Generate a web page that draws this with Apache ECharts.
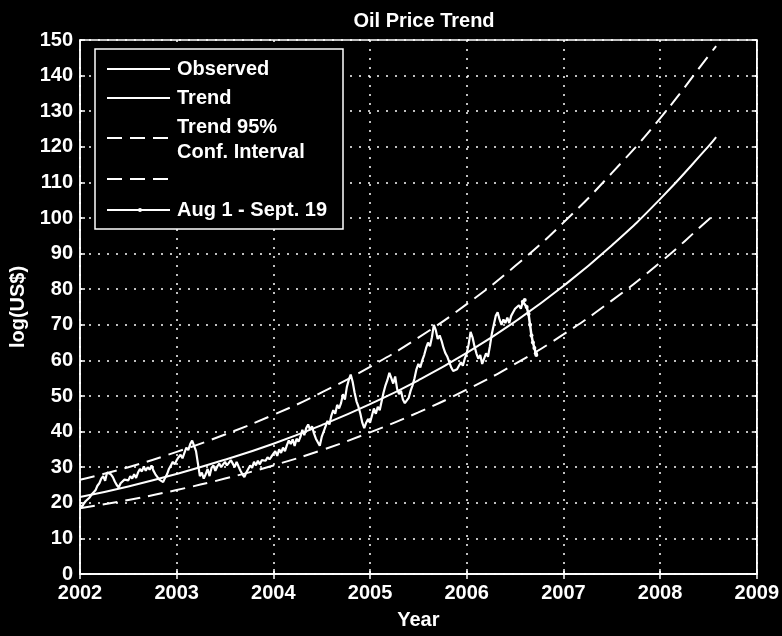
<!DOCTYPE html>
<html>
<head>
<meta charset="utf-8">
<title>Oil Price Trend</title>
<script src="https://cdn.jsdelivr.net/npm/echarts@6/dist/echarts.min.js"></script>
<style>
  html, body { margin: 0; padding: 0; background: #000; }
  #chart { width: 782px; height: 636px; }
</style>
</head>
<body>
<div id="chart"></div>
<script>
// trend model, read at half-year steps
const trendYears = [2002, 2002.5, 2003, 2003.5, 2004, 2004.5, 2005, 2005.5, 2006, 2006.5, 2007, 2007.5, 2008, 2008.5, 2008.58]
const trendValues = [21.6, 24.6, 28.1, 32.1, 36.6, 41.8, 47.7, 54.4, 62.1, 70.9, 80.9, 92.3, 105.3, 120.1, 122.7]
const upperValues = [26.5, 30.0, 34.3, 39.2, 44.7, 51.0, 58.2, 66.4, 75.8, 86.5, 98.7, 112.6, 128.0, 145.5, 148.3]
const lowerValues = [18.5, 20.8, 23.6, 26.8, 30.5, 34.8, 39.8, 45.4, 51.8, 59.0, 67.3, 76.8, 87.5, 99.5, 101.4]

// observed price, [year, US$]
const observed = [
  [2002.00, 19.5], [2002.02, 18.8], [2002.04, 19.8], [2002.06, 20.5], [2002.08, 20.0], [2002.10, 21.5],
  [2002.12, 22.3], [2002.14, 21.8], [2002.16, 23.5], [2002.18, 24.8], [2002.20, 25.5], [2002.22, 26.8],
  [2002.24, 27.5], [2002.26, 26.2], [2002.28, 28.5], [2002.30, 29.0], [2002.32, 28.0], [2002.34, 27.2],
  [2002.36, 26.0], [2002.38, 25.0], [2002.40, 24.3], [2002.42, 25.5], [2002.44, 25.0], [2002.46, 26.5],
  [2002.48, 27.0], [2002.50, 26.3], [2002.52, 27.5], [2002.54, 26.8], [2002.56, 28.0], [2002.58, 27.0],
  [2002.60, 28.5], [2002.62, 29.5], [2002.64, 28.8], [2002.66, 30.2], [2002.68, 29.0], [2002.70, 30.0],
  [2002.72, 29.3], [2002.74, 30.5], [2002.76, 29.0], [2002.78, 28.0], [2002.80, 27.5], [2002.82, 26.5],
  [2002.84, 26.0], [2002.86, 25.8], [2002.88, 27.0], [2002.90, 28.0], [2002.92, 29.5], [2002.94, 30.5],
  [2002.96, 31.5], [2002.98, 30.8], [2003.00, 32.0], [2003.02, 32.8], [2003.04, 33.5], [2003.06, 32.5],
  [2003.08, 34.0], [2003.10, 35.5], [2003.12, 34.8], [2003.14, 36.5], [2003.16, 37.5], [2003.18, 37.8],
  [2003.20, 34.5], [2003.22, 31.0], [2003.24, 27.5], [2003.26, 28.5], [2003.28, 26.8], [2003.30, 28.0],
  [2003.32, 29.5], [2003.34, 27.5], [2003.36, 29.8], [2003.38, 30.5], [2003.40, 29.0], [2003.42, 30.2],
  [2003.44, 31.0], [2003.46, 30.0], [2003.48, 30.8], [2003.50, 31.5], [2003.52, 30.5], [2003.54, 31.2],
  [2003.56, 32.0], [2003.58, 31.0], [2003.60, 30.0], [2003.62, 31.5], [2003.64, 30.2], [2003.66, 29.0],
  [2003.68, 28.0], [2003.70, 27.2], [2003.72, 28.5], [2003.74, 29.5], [2003.76, 30.5], [2003.78, 29.8],
  [2003.80, 31.5], [2003.82, 30.5], [2003.84, 31.8], [2003.86, 30.8], [2003.88, 32.0], [2003.90, 32.5],
  [2003.92, 31.8], [2003.94, 32.8], [2003.96, 32.2], [2003.98, 33.0], [2004.00, 33.5], [2004.02, 34.5],
  [2004.04, 33.2], [2004.06, 35.0], [2004.08, 34.0], [2004.10, 35.5], [2004.12, 34.5], [2004.14, 36.2],
  [2004.16, 37.5], [2004.18, 36.5], [2004.20, 37.8], [2004.22, 36.0], [2004.24, 38.0], [2004.26, 37.2],
  [2004.28, 38.5], [2004.30, 40.5], [2004.32, 39.0], [2004.34, 41.0], [2004.36, 42.0], [2004.38, 40.5],
  [2004.40, 41.5], [2004.42, 39.5], [2004.44, 38.0], [2004.46, 37.5], [2004.48, 36.0], [2004.50, 38.5],
  [2004.52, 40.0], [2004.54, 41.5], [2004.56, 43.0], [2004.58, 42.0], [2004.60, 44.5], [2004.62, 46.0],
  [2004.64, 45.0], [2004.66, 47.5], [2004.68, 46.5], [2004.70, 48.0], [2004.72, 50.5], [2004.74, 49.0],
  [2004.76, 52.5], [2004.78, 54.5], [2004.80, 56.0], [2004.82, 54.0], [2004.84, 51.0], [2004.86, 48.5],
  [2004.88, 47.0], [2004.90, 45.0], [2004.92, 42.5], [2004.94, 41.0], [2004.96, 42.5], [2004.98, 43.5],
  [2005.00, 42.5], [2005.02, 44.5], [2005.04, 46.5], [2005.06, 45.0], [2005.08, 47.0], [2005.10, 46.0],
  [2005.12, 48.5], [2005.14, 51.0], [2005.16, 53.0], [2005.18, 54.5], [2005.20, 56.5], [2005.22, 55.0],
  [2005.24, 53.5], [2005.26, 55.5], [2005.28, 52.0], [2005.30, 50.5], [2005.32, 51.5], [2005.34, 49.0],
  [2005.36, 48.0], [2005.38, 47.5], [2005.40, 49.5], [2005.42, 51.5], [2005.44, 53.0], [2005.46, 55.0],
  [2005.48, 57.5], [2005.50, 59.0], [2005.52, 58.0], [2005.54, 60.0], [2005.56, 61.5], [2005.58, 63.5],
  [2005.60, 65.0], [2005.62, 64.0], [2005.64, 66.5], [2005.66, 70.0], [2005.68, 68.5], [2005.70, 66.0],
  [2005.72, 67.0], [2005.74, 65.5], [2005.76, 63.5], [2005.78, 62.0], [2005.80, 61.0], [2005.82, 59.5],
  [2005.84, 58.0], [2005.86, 57.0], [2005.88, 56.5], [2005.90, 57.5], [2005.92, 58.0], [2005.94, 59.5],
  [2005.96, 58.5], [2005.98, 60.5], [2006.00, 62.0], [2006.02, 64.5], [2006.04, 68.0], [2006.06, 66.5],
  [2006.08, 64.0], [2006.10, 62.0], [2006.12, 60.5], [2006.14, 61.5], [2006.16, 59.0], [2006.18, 60.5],
  [2006.20, 62.0], [2006.22, 61.0], [2006.24, 64.0], [2006.26, 67.5], [2006.28, 70.0], [2006.30, 72.5],
  [2006.32, 73.5], [2006.34, 71.5], [2006.36, 70.0], [2006.38, 71.5], [2006.40, 70.5], [2006.42, 72.0],
  [2006.44, 70.5], [2006.46, 72.5], [2006.48, 73.5], [2006.50, 74.5], [2006.52, 74.0], [2006.54, 75.5],
  [2006.56, 74.5], [2006.58, 76.5]
]

// Aug 1 - Sept. 19
const recent = [
  [2006.58, 76.5], [2006.60, 77.0], [2006.62, 75.0], [2006.64, 73.0], [2006.655, 70.0],
  [2006.67, 67.0], [2006.685, 65.0], [2006.70, 63.5], [2006.715, 62.0], [2006.72, 61.5]
]

const zip = (xs, ys) => xs.map((x, i) => [x, ys[i]])

const font = '"Liberation Sans", Arial, sans-serif'
const white = '#fff'
const dash = [15, 8]

const el = document.getElementById('chart')
const myChart = echarts.init(el)

const axisCommon = {
  axisLine: { show: true, lineStyle: { color: white, width: 1.5 } },
  axisTick: { show: true, inside: true, length: 5, lineStyle: { color: white, width: 1.5 } },
  axisLabel: { color: white, fontSize: 20, fontWeight: 'bold', fontFamily: font },
  splitLine: { show: true, lineStyle: { color: white, type: [2, 7], width: 1.5 } },
}

const legendText = (text, x, y) => ({
  type: 'text', x, y, z: 101,
  style: { text, fill: white, font: 'bold 20px ' + font, verticalAlign: 'middle' },
})
const legendLine = (y, lineDash) => ({
  type: 'line', z: 101,
  shape: { x1: 107, y1: y, x2: 170, y2: y },
  style: { stroke: white, lineWidth: 2, lineDash: lineDash || null },
})

const option = {
  backgroundColor: '#000',
  animation: false,
  title: {
    text: 'Oil Price Trend',
    left: 419, top: 6, textAlign: 'center',
    textStyle: { color: white, fontSize: 20, fontWeight: 'bold', fontFamily: font },
  },
  grid: { left: 80, right: 24, top: 40, bottom: 62, show: true, borderColor: white, borderWidth: 1.5 },
  xAxis: [
    {
      ...axisCommon,
      type: 'value', min: 2002, max: 2009, interval: 1,
      axisLabel: { ...axisCommon.axisLabel, margin: 9, formatter: (v) => String(v) },
      name: 'Year', nameLocation: 'middle', nameGap: 36,
      nameTextStyle: { color: white, fontSize: 20, fontWeight: 'bold', fontFamily: font },
    },
    {
      ...axisCommon,
      type: 'value', min: 2002, max: 2009, interval: 1, position: 'top',
      axisLabel: { show: false }, splitLine: { show: false },
    },
  ],
  yAxis: [
    {
      ...axisCommon,
      type: 'value', min: 0, max: 150, interval: 10,
      axisLabel: { ...axisCommon.axisLabel, margin: 7 },
      name: 'log(US$)', nameLocation: 'middle', nameGap: 52,
      nameTextStyle: { color: white, fontSize: 20, fontWeight: 'bold', fontFamily: font },
    },
    {
      ...axisCommon,
      type: 'value', min: 0, max: 150, interval: 10, position: 'right',
      axisLabel: { show: false }, splitLine: { show: false },
    },
  ],
  series: [
    {
      name: 'Observed', type: 'line', data: observed, showSymbol: false,
      lineStyle: { color: white, width: 2.2 },
    },
    {
      name: 'Trend', type: 'line', data: zip(trendYears, trendValues), showSymbol: false, smooth: true,
      lineStyle: { color: white, width: 2 },
    },
    {
      name: 'Trend 95% Conf. Interval', type: 'line', data: zip(trendYears, upperValues), showSymbol: false, smooth: true,
      lineStyle: { color: white, width: 2, type: dash },
    },
    {
      name: 'Lower', type: 'line', data: zip(trendYears, lowerValues), showSymbol: false, smooth: true,
      lineStyle: { color: white, width: 2, type: dash },
    },
    {
      name: 'Aug 1 - Sept. 19', type: 'line', data: recent, symbol: 'circle', symbolSize: 4,
      itemStyle: { color: white }, lineStyle: { color: white, width: 2.5 },
    },
  ],
  graphic: [
    {
      type: 'rect', shape: { x: 95, y: 49, width: 248, height: 180 },
      style: { fill: '#000', stroke: white, lineWidth: 1.5 }, z: 100,
    },
    legendLine(69), legendText('Observed', 177, 69),
    legendLine(98), legendText('Trend', 177, 98),
    legendLine(138, dash), legendText('Trend 95%', 177, 127), legendText('Conf. Interval', 177, 152),
    legendLine(179, dash),
    legendLine(210),
    { type: 'circle', z: 101, shape: { cx: 140, cy: 210, r: 2 }, style: { fill: white } },
    legendText('Aug 1 - Sept. 19', 177, 210),
  ],
}

myChart.setOption(option, true)
</script>
</body>
</html>
